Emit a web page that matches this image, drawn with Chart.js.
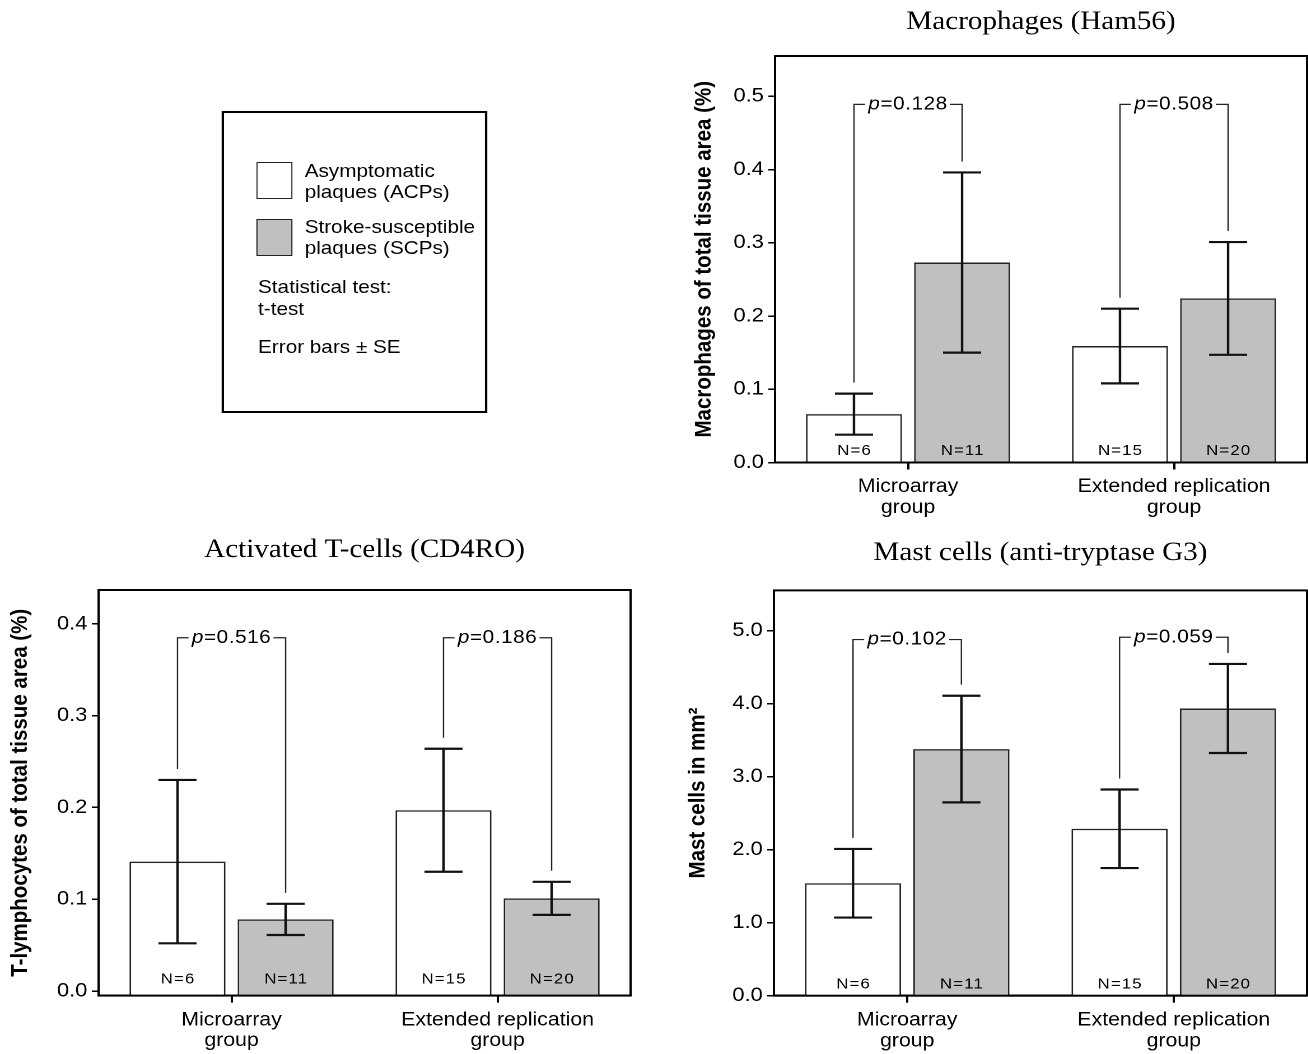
<!DOCTYPE html>
<html>
<head>
<meta charset="utf-8">
<script src="https://cdn.jsdelivr.net/npm/chart.js@4.4.1/dist/chart.umd.min.js"></script>
<style>
  html, body { margin: 0; padding: 0; background: #fff; }
  body { width: 1308px; height: 1054px; overflow: hidden; position: relative; }
  /* the source figure is stretched horizontally, so the whole page is too */
  #page { position: absolute; left: 0; top: 0; width: 1168px; height: 1054px;
          transform: scaleX(1.12); transform-origin: 0 0;
          font-family: 'Liberation Sans', Arial, sans-serif; color: #000; }
  canvas { position: absolute; }
  #legend { position: absolute; left: 198px; top: 111px; width: 237px; height: 302px;
            border: 2px solid #000; box-sizing: border-box; }
  .sw { position: absolute; left: 29px; width: 32px; height: 37px; border: 1.5px solid #222; box-sizing: border-box; }
  .txt { position: absolute; left: 72px; font-size: 18.5px; line-height: 21px; white-space: nowrap; }
</style>
</head>
<body>
<div id="page">
  <div id="legend">
    <div class="sw" style="top:48.7px;background:#fff"></div>
    <div class="txt" style="top:46.7px">Asymptomatic<br>plaques (ACPs)</div>
    <div class="sw" style="top:106px;background:#c0c0c0"></div>
    <div class="txt" style="top:103.2px">Stroke-susceptible<br>plaques (SCPs)</div>
    <div class="txt" style="top:162.8px;left:30.4px;line-height:21.7px">Statistical test:<br>t-test</div>
    <div class="txt" style="top:223.2px;left:30.4px">Error bars ± SE</div>
  </div>
  <canvas id="c1" width="568" height="530" style="left:600px;top:0px"></canvas>
  <canvas id="c2" width="580" height="524" style="left:0px;top:530px"></canvas>
  <canvas id="c3" width="568" height="524" style="left:600px;top:530px"></canvas>
</div>
<script>
const categories = [['Microarray', 'group'], ['Extended replication', 'group']];
const groupNames = ['Asymptomatic plaques (ACPs)', 'Stroke-susceptible plaques (SCPs)'];
const nACP = [6, 15];
const nSCP = [11, 20];

// Macrophages (Ham56)
const macroACP = [0.066, 0.159];
const macroACPse = [0.028, 0.051];
const macroSCP = [0.273, 0.224];
const macroSCPse = [0.123, 0.077];
const macroP = ['0.128', '0.508'];
const macroBracket = [0.489, 0.489];
const macroTicks = [0, 0.1, 0.2, 0.3, 0.4, 0.5];

// Activated T-cells (CD4RO)
const tcellACP = [0.141, 0.197];
const tcellACPse = [0.089, 0.067];
const tcellSCP = [0.078, 0.101];
const tcellSCPse = [0.017, 0.018];
const tcellP = ['0.516', '0.186'];
const tcellBracket = [0.385, 0.385];
const tcellTicks = [0, 0.1, 0.2, 0.3, 0.4];

// Mast cells (anti-tryptase G3)
const mastACP = [1.54, 2.286];
const mastACPse = [0.47, 0.538];
const mastSCP = [3.377, 3.933];
const mastSCPse = [0.73, 0.61];
const mastP = ['0.102', '0.059'];
const mastBracket = [4.877, 4.908];
const mastTicks = [0, 1, 2, 3, 4, 5];

const SANS = '"Liberation Sans", Arial, sans-serif';
Chart.defaults.color = '#000';
Chart.defaults.font.family = SANS;

function makePanel(id, cfg) {
  const extras = {
    id: 'extras',
    afterDatasetsDraw(chart) {
      const { ctx, chartArea: a, scales: { y } } = chart;
      ctx.save();
      ctx.strokeStyle = '#000';
      ctx.lineWidth = 2;
      ctx.strokeRect(a.left, a.top, a.right - a.left, a.bottom - a.top);

      const means = [cfg.acp, cfg.scp], ses = [cfg.acpSe, cfg.scpSe], ns = [nACP, nSCP];
      const tops = [[], []];
      for (let d = 0; d < 2; d++) {
        chart.getDatasetMeta(d).data.forEach((bar, i) => {
          const hi = y.getPixelForValue(means[d][i] + ses[d][i]);
          const lo = y.getPixelForValue(means[d][i] - ses[d][i]);
          ctx.strokeStyle = '#111';
          ctx.lineWidth = 2.2;
          ctx.beginPath();
          ctx.moveTo(bar.x, hi); ctx.lineTo(bar.x, lo);
          ctx.moveTo(bar.x - 17, hi); ctx.lineTo(bar.x + 17, hi);
          ctx.moveTo(bar.x - 17, lo); ctx.lineTo(bar.x + 17, lo);
          ctx.stroke();
          tops[d][i] = { x: bar.x, y: hi };

          ctx.fillStyle = '#000';
          ctx.font = '15px ' + SANS;
          ctx.letterSpacing = '1px';
          ctx.textAlign = 'center';
          ctx.textBaseline = 'middle';
          ctx.fillText('N=' + ns[d][i], bar.x + 0.5, y.getPixelForValue(0) - 11.5);
          ctx.letterSpacing = '0px';
        });
      }

      // significance brackets
      cfg.p.forEach((p, i) => {
        const L = tops[0][i], R = tops[1][i];
        const by = y.getPixelForValue(cfg.bracket[i]);
        const cx = (L.x + R.x) / 2;
        ctx.letterSpacing = '0.5px';
        ctx.font = 'italic 18.5px ' + SANS;
        const wp = ctx.measureText('p').width;
        ctx.font = '18.5px ' + SANS;
        const wr = ctx.measureText('=' + p).width;
        const w = wp + wr, x0 = cx - w / 2;
        ctx.strokeStyle = '#222';
        ctx.lineWidth = 1.2;
        ctx.beginPath();
        ctx.moveTo(L.x, L.y - 11); ctx.lineTo(L.x, by); ctx.lineTo(x0 - 3, by);
        ctx.moveTo(x0 + w + 2, by); ctx.lineTo(R.x, by); ctx.lineTo(R.x, R.y - 11);
        ctx.stroke();
        ctx.textAlign = 'left';
        ctx.textBaseline = 'middle';
        ctx.font = 'italic 18.5px ' + SANS;
        ctx.fillText('p', x0, by);
        ctx.font = '18.5px ' + SANS;
        ctx.fillText('=' + p, x0 + wp, by);
        ctx.letterSpacing = '0px';
      });
      ctx.restore();
    }
  };

  return new Chart(document.getElementById(id), {
    type: 'bar',
    data: {
      labels: categories,
      datasets: [
        { label: groupNames[0], data: cfg.acp, backgroundColor: '#ffffff' },
        { label: groupNames[1], data: cfg.scp, backgroundColor: '#c0c0c0' }
      ]
    },
    options: {
      responsive: false,
      animation: false,
      devicePixelRatio: 2,
      datasets: {
        bar: { borderColor: '#222', borderWidth: 1.5, categoryPercentage: 0.813, barPercentage: 0.888, base: cfg.yMin }
      },
      layout: { padding: { left: 0, right: cfg.padRight, top: 0, bottom: 0 } },
      plugins: {
        legend: { display: false },
        tooltip: { enabled: false },
        title: {
          display: true, text: cfg.title, fullSize: false, color: '#000',
          font: { family: '"Liberation Serif", "Times New Roman", serif', size: 26, weight: 'normal', lineHeight: 1.2 },
          padding: { top: cfg.titleTop, bottom: cfg.titleBottom }
        }
      },
      scales: {
        x: {
          grid: { drawOnChartArea: false, offset: false, tickLength: 7, lineWidth: 2, color: '#000' },
          border: { color: '#000', width: 2 },
          ticks: { color: '#000', font: { size: 19, lineHeight: 1.1 }, padding: 7, maxRotation: 0, autoSkip: false },
          afterFit: s => { s.height = cfg.xHeight; }
        },
        y: {
          min: cfg.yMin, max: cfg.yMax,
          afterBuildTicks: s => { s.ticks = cfg.ticks.map(v => ({ value: v })); },
          grid: { drawOnChartArea: false, tickLength: 6, lineWidth: 1.5, color: '#000' },
          border: { color: '#000', width: 2 },
          ticks: { color: '#000', font: { size: 19.5 }, padding: 4, callback: v => v.toFixed(1) },
          title: {
            display: true, text: cfg.yTitle, color: '#000',
            font: { size: 20.5, weight: 'bold' },
            padding: { top: cfg.yTitlePad, bottom: 0 }
          },
          afterFit: s => { s.width = cfg.yWidth; }
        }
      }
    },
    plugins: [extras]
  });
}

makePanel('c1', {
  title: 'Macrophages (Ham56)', yTitle: 'Macrophages of total tissue area (%)',
  acp: macroACP, acpSe: macroACPse, scp: macroSCP, scpSe: macroSCPse,
  p: macroP, bracket: macroBracket, ticks: macroTicks, yMin: 0, yMax: 0.555,
  yWidth: 92, padRight: 1, titleTop: 6.4, titleBottom: 18.4, xHeight: 67.5, yTitlePad: 16.6
});
makePanel('c2', {
  title: 'Activated T-cells (CD4RO)', yTitle: 'T-lymphocytes of total tissue area (%)',
  acp: tcellACP, acpSe: tcellACPse, scp: tcellSCP, scpSe: tcellSCPse,
  p: tcellP, bracket: tcellBracket, ticks: tcellTicks, yMin: -0.005, yMax: 0.437,
  yWidth: 88, padRight: 17, titleTop: 4.4, titleBottom: 24.4, xHeight: 58.4, yTitlePad: 6.1
});
makePanel('c3', {
  title: 'Mast cells (anti-tryptase G3)', yTitle: 'Mast cells in mm\u00B2',
  acp: mastACP, acpSe: mastACPse, scp: mastSCP, scpSe: mastSCPse,
  p: mastP, bracket: mastBracket, ticks: mastTicks, yMin: 0, yMax: 5.55,
  yWidth: 91, padRight: 1, titleTop: 7.4, titleBottom: 21.8, xHeight: 58.3, yTitlePad: 10.9
});
</script>
</body>
</html>
